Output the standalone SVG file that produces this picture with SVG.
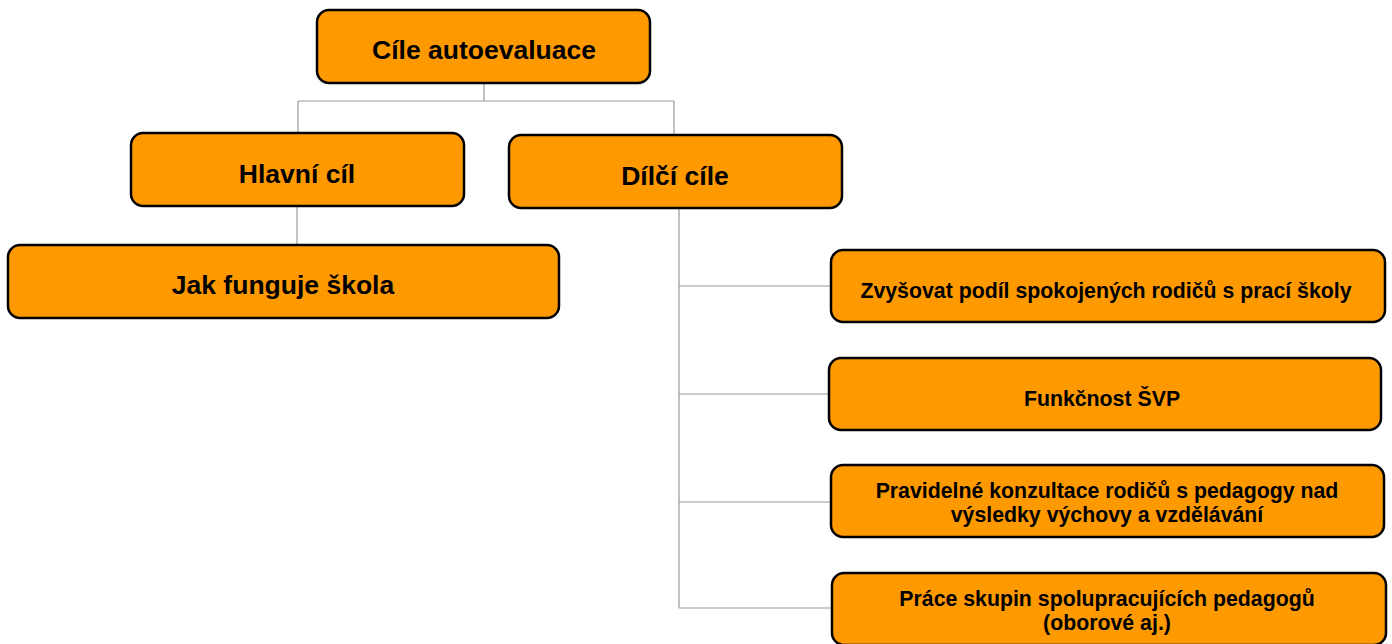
<svg xmlns="http://www.w3.org/2000/svg" width="1392" height="644" viewBox="0 0 1392 644">
<style>
.box{fill:#FF9900;stroke:#000;stroke-width:2.5}
.t1{font-family:"Liberation Sans",Arial,sans-serif;font-weight:bold;font-size:26.5px;fill:#000;text-anchor:middle}
.t2{font-family:"Liberation Sans",Arial,sans-serif;font-weight:bold;font-size:21.3px;fill:#000;text-anchor:middle}
.c{fill:none;stroke:#999;stroke-width:1.2}
</style>
<rect width="1392" height="644" fill="#fff"/>
<g id="connectors">
<path class="c" d="M484 83V101M298 101H674M298 101V133M674 101V135"/>
<path class="c" d="M297 206V245"/>
<path class="c" d="M679 208V608M679 286H831M679 394H829M679 502H831M679 608H832"/>
</g>
<g id="n_root"><rect class="box" x="317" y="10" width="333" height="73" rx="12"/><text class="t1" x="484" y="59">Cíle autoevaluace</text></g>
<g id="n_hlavni"><rect class="box" x="131" y="133" width="333" height="73" rx="12"/><text class="t1" x="297" y="183">Hlavní cíl</text></g>
<g id="n_dilci"><rect class="box" x="509" y="135" width="333" height="73" rx="12"/><text class="t1" x="675" y="185">Dílčí cíle</text></g>
<g id="n_jak"><rect class="box" x="8" y="245" width="551" height="73" rx="12"/><text class="t1" x="283" y="294">Jak funguje škola</text></g>
<g id="n_z1"><rect class="box" x="831" y="250" width="554" height="72" rx="12"/><text class="t2" x="1106" y="298">Zvyšovat podíl spokojených rodičů s prací školy</text></g>
<g id="n_z2"><rect class="box" x="829" y="358" width="552" height="72" rx="12"/><text class="t2" x="1102" y="406">Funkčnost ŠVP</text></g>
<g id="n_z3"><rect class="box" x="831" y="465" width="553" height="72" rx="12"/><text class="t2" x="1107" y="498">Pravidelné konzultace rodičů s pedagogy nad</text><text class="t2" x="1107" y="522">výsledky výchovy a vzdělávání</text></g>
<g id="n_z4"><rect class="box" x="832" y="573" width="554" height="72" rx="12"/><text class="t2" x="1107" y="606">Práce skupin spolupracujících pedagogů</text><text class="t2" x="1107" y="630">(oborové aj.)</text></g>
</svg>
